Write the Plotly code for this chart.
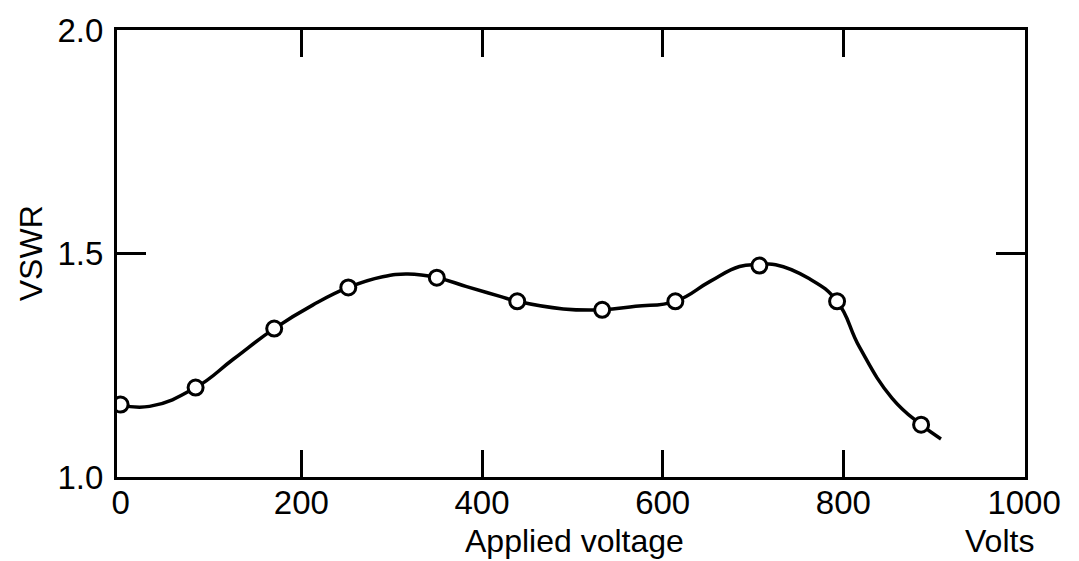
import plotly.graph_objects as go

# Measured points (open circles)
volts_pts = [0, 83, 170, 252, 350, 439, 533, 614, 707, 793, 886]
vswr_pts = [1.162, 1.200, 1.332, 1.424, 1.446, 1.393, 1.374, 1.393, 1.473, 1.393, 1.117]

# Smooth curve
volts_curve = [0, 32, 83, 125, 170, 213, 252, 290, 318, 350, 383, 420, 439,
               490, 533, 570, 614, 652, 685, 707, 725, 762, 793, 818, 854, 886, 908]
vswr_curve = [1.162, 1.158, 1.200, 1.264, 1.332, 1.385, 1.424, 1.448, 1.454,
              1.446, 1.426, 1.404, 1.393, 1.376, 1.374, 1.382, 1.393, 1.437, 1.471,
              1.475, 1.475, 1.444, 1.393, 1.290, 1.176, 1.117, 1.085]

x_tickvals = [0, 200, 400, 600, 800, 1000]
x_ticktext = ["0", "200", "400", "600", "800", "1000"]
x_minor = [200, 400, 600, 800]
y_tickvals = [1.0, 1.5, 2.0]
y_ticktext = ["1.0", "1.5", "2.0"]
y_minor = [1.5]

FONT = "Liberation Sans"

fig = go.Figure()
fig.add_trace(go.Scatter(
    x=volts_curve, y=vswr_curve, mode="lines",
    line=dict(color="black", width=3.5, shape="spline", smoothing=1.3),
    hoverinfo="skip", showlegend=False))
fig.add_trace(go.Scatter(
    x=volts_pts, y=vswr_pts, mode="markers",
    marker=dict(symbol="circle", size=15, color="white",
                line=dict(color="black", width=3)),
    showlegend=False))

fig.update_layout(
    width=1079, height=561,
    margin=dict(l=117, r=54, t=22, b=84),
    paper_bgcolor="white", plot_bgcolor="white",
    font=dict(family=FONT, color="black", size=32),
    xaxis=dict(range=[-4, 1001], tickvals=x_tickvals, ticktext=x_ticktext,
               ticks="", showgrid=False, zeroline=False,
               showline=True, linecolor="black", linewidth=3, mirror="allticks",
               ticklabelstandoff=-6,
               tickfont=dict(family=FONT, size=33, color="black"),
               minor=dict(tickvals=x_minor, ticks="inside", ticklen=27,
                          tickwidth=3, tickcolor="black", showgrid=False)),
    yaxis=dict(range=[1.0, 2.0], tickvals=y_tickvals, ticktext=y_ticktext,
               ticks="", showgrid=False, zeroline=False,
               showline=True, linecolor="black", linewidth=3, mirror="allticks",
               ticklabelstandoff=4,
               tickfont=dict(family=FONT, size=33, color="black"),
               minor=dict(tickvals=y_minor, ticks="inside", ticklen=29,
                          tickwidth=3, tickcolor="black", showgrid=False)),
    annotations=[
        dict(text="Applied voltage", xref="paper", yref="paper", x=0.504, y=-0.143,
             showarrow=False, font=dict(family=FONT, size=32), xanchor="center", yanchor="middle"),
        dict(text="Volts", xref="paper", yref="paper", x=0.972, y=-0.143,
             showarrow=False, font=dict(family=FONT, size=32), xanchor="center", yanchor="middle"),
        dict(text="VSWR", xref="paper", yref="paper", x=-0.095, y=0.5, textangle=-90,
             showarrow=False, font=dict(family=FONT, size=32), xanchor="center", yanchor="middle"),
    ],
)

fig.write_html("out.html")
